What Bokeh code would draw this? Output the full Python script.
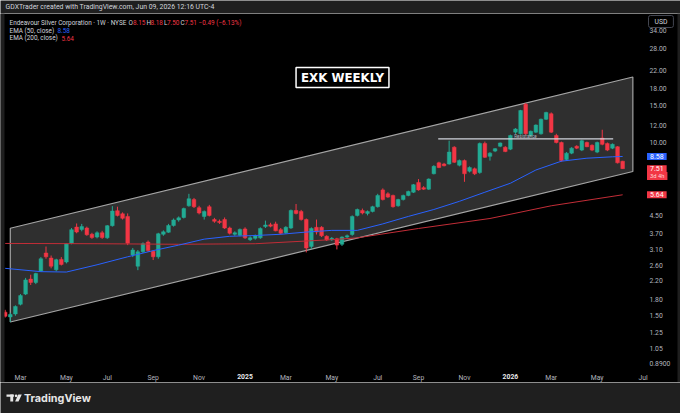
import math
import pandas as pd
from bokeh.plotting import figure
from bokeh.models import Range1d, FixedTicker, Label, ColumnDataSource, DatetimeAxis
from bokeh.layouts import column
from bokeh.embed import file_html
from bokeh.resources import INLINE
from bokeh.core.properties import value

# ---------------- data ----------------
first_week = "2024-02-12"   # weekly bars, Monday dates

opens = [1.56, 1.48, 1.53, 1.70, 1.90, 2.24, 2.16, 2.45, 2.98, 2.82,
         2.48, 2.78, 2.70, 3.32, 3.96, 3.86, 3.92, 3.66, 3.55, 3.72,
         3.52, 4.02, 4.74, 4.58, 4.45, 2.92, 2.58, 3.02, 3.36, 3.04,
         2.86, 3.66, 3.74, 4.03, 4.28, 4.40, 5.00, 5.35, 4.90, 4.45,
         4.95, 4.30, 4.22, 4.30, 3.92, 3.66, 3.62, 3.88, 3.45, 3.50,
         3.52, 3.98, 4.06, 4.10, 3.85, 3.72, 3.92, 4.75, 4.70, 4.30,
         3.20, 3.95, 3.95, 3.58, 3.45, 3.48, 3.28, 3.55, 3.65, 4.50,
         4.75, 4.60, 4.70, 4.95, 5.95, 5.70, 5.60, 5.00, 5.35, 5.60,
         5.80, 6.45, 6.10, 6.00, 7.10, 8.00, 7.90, 7.90, 9.50, 7.80,
         8.20, 7.30, 7.50, 7.20, 9.90, 8.60, 9.10, 9.60, 9.50, 9.30,
         11.2, 11.0, 15.2, 10.8, 11.2, 11.0, 12.9, 13.7, 10.8, 10.0,
         8.30, 8.90, 9.60, 9.20, 10.0, 9.70, 9.00, 10.5, 9.90, 9.40,
         9.55, 8.15]
highs = [1.60, 1.55, 1.68, 1.90, 2.27, 2.35, 2.40, 2.85, 3.20, 2.90,
         2.80, 2.85, 3.32, 3.92, 4.12, 4.10, 3.98, 3.72, 3.78, 3.80,
         4.05, 4.98, 4.95, 4.65, 4.60, 3.15, 3.08, 3.35, 3.42, 3.08,
         3.72, 3.82, 4.10, 4.35, 4.45, 4.90, 5.70, 5.45, 5.00, 4.75,
         5.05, 4.38, 4.30, 4.40, 3.98, 3.78, 3.90, 3.95, 3.58, 3.65,
         3.95, 4.25, 4.15, 4.20, 3.92, 4.00, 4.80, 5.10, 4.78, 4.35,
         3.95, 4.30, 4.00, 3.62, 3.55, 3.52, 3.58, 3.65, 4.50, 4.85,
         4.85, 4.75, 5.00, 5.70, 6.05, 5.80, 5.65, 5.40, 5.65, 5.90,
         6.35, 6.70, 6.20, 6.75, 7.80, 8.10, 8.00, 10.2, 9.60, 8.30,
         8.30, 7.70, 7.60, 10.0, 10.1, 9.00, 9.40, 10.0, 9.60, 10.9,
         11.7, 14.3, 15.4, 11.4, 12.2, 13.0, 14.0, 13.9, 11.0, 10.1,
         9.00, 9.50, 9.70, 10.3, 10.1, 9.80, 10.1, 11.5, 10.0, 9.90,
         9.60, 8.18]
lows = [1.47, 1.40, 1.50, 1.68, 1.88, 2.10, 2.12, 2.42, 2.80, 2.52,
        2.44, 2.60, 2.66, 3.28, 3.70, 3.78, 3.60, 3.48, 3.50, 3.48,
        3.48, 3.98, 4.45, 4.30, 3.25, 2.85, 2.47, 2.98, 3.02, 2.76,
        2.80, 3.60, 3.72, 3.98, 4.20, 4.35, 4.95, 4.88, 4.55, 4.30,
        4.45, 4.15, 4.10, 3.88, 3.65, 3.60, 3.58, 3.48, 3.40, 3.45,
        3.48, 3.92, 3.95, 3.78, 3.65, 3.68, 3.88, 4.55, 4.25, 3.00,
        3.12, 3.65, 3.55, 3.40, 3.40, 3.10, 3.22, 3.50, 3.60, 4.45,
        4.55, 4.50, 4.65, 4.90, 5.30, 5.45, 4.90, 4.95, 5.30, 5.55,
        5.75, 5.90, 5.95, 5.95, 7.05, 7.55, 7.70, 7.85, 8.00, 7.70,
        6.50, 7.20, 7.00, 7.10, 8.45, 8.20, 9.00, 9.50, 9.00, 9.20,
        11.0, 10.9, 10.9, 10.6, 11.1, 10.9, 12.8, 11.1, 9.90, 8.10,
        8.20, 8.80, 9.30, 9.10, 9.50, 9.10, 8.90, 9.70, 9.10, 9.30,
        7.95, 7.50]
closes = [1.49, 1.52, 1.66, 1.87, 2.22, 2.16, 2.38, 2.80, 2.86, 2.58,
          2.77, 2.63, 3.30, 3.85, 3.75, 3.98, 3.64, 3.53, 3.72, 3.53,
          4.02, 4.72, 4.50, 4.36, 3.32, 3.08, 3.02, 3.30, 3.06, 2.86,
          3.68, 3.76, 4.03, 4.28, 4.38, 4.85, 5.40, 4.95, 4.62, 4.70,
          4.50, 4.22, 4.16, 3.92, 3.70, 3.72, 3.86, 3.52, 3.52, 3.60,
          3.90, 4.05, 4.00, 3.80, 3.70, 3.95, 4.75, 4.60, 4.30, 3.15,
          3.90, 3.75, 3.60, 3.44, 3.50, 3.25, 3.55, 3.60, 4.45, 4.80,
          4.62, 4.70, 4.95, 5.60, 5.35, 5.50, 4.95, 5.35, 5.60, 5.85,
          6.30, 5.95, 6.00, 6.70, 7.70, 7.60, 7.75, 9.00, 8.05, 8.20,
          7.10, 7.60, 7.10, 9.90, 8.50, 8.90, 9.35, 9.95, 9.05, 10.8,
          11.6, 14.2, 11.0, 11.3, 12.1, 12.9, 13.9, 11.2, 10.0, 8.20,
          8.90, 9.40, 9.40, 10.2, 9.55, 9.20, 10.0, 9.80, 9.20, 9.80,
          8.00, 7.51]

ema50_dates = ["2024-02-12", "2024-04-01", "2024-05-06", "2024-06-17", "2024-07-29",
               "2024-09-02", "2024-10-07", "2024-11-11", "2024-12-16", "2025-01-20",
               "2025-02-24", "2025-03-31", "2025-05-05", "2025-06-09", "2025-07-14",
               "2025-08-18", "2025-09-22", "2025-10-27", "2025-12-01", "2026-01-05",
               "2026-02-09", "2026-03-16", "2026-04-20", "2026-05-25", "2026-06-08"]
ema50_vals = [2.52, 2.43, 2.42, 2.62, 2.86, 3.06, 3.25, 3.47, 3.58, 3.61,
              3.66, 3.75, 3.82, 3.82, 4.10, 4.45, 4.80, 5.25, 5.80, 6.40,
              7.40, 8.15, 8.42, 8.55, 8.58]

ema200_dates = ["2024-02-12", "2024-06-17", "2024-10-07", "2025-01-20", "2025-05-05",
                "2025-06-09", "2025-09-01", "2025-12-08", "2026-03-02", "2026-06-08"]
ema200_vals = [3.31, 3.30, 3.28, 3.30, 3.45, 3.52, 3.90, 4.35, 5.00, 5.64]

channel_dates = ["2024-02-19", "2024-02-19", "2026-06-22", "2026-06-22"]
channel_prices = [1.40, 3.91, 20.5, 7.28]

resistance_dates = ["2025-09-28", "2026-05-26"]
resistance_level = 10.41

price_ticks = [0.89, 1.05, 1.25, 1.5, 1.8, 2.2, 2.6, 3.1, 3.7, 4.5,
               10, 12, 15, 18, 22, 28, 34]
price_tick_labels = ["0.8900", "1.05", "1.25", "1.50", "1.80", "2.20", "2.60", "3.10",
                     "3.70", "4.50", "10.00", "12.00", "15.00", "18.00", "22.00",
                     "28.00", "34.00"]
month_tick_dates = ["2024-03-04", "2024-05-06", "2024-07-01", "2024-09-02", "2024-11-04",
                    "2025-03-03", "2025-05-05", "2025-07-07", "2025-09-01",
                    "2025-11-03", "2026-03-02", "2026-05-04", "2026-07-06"]
month_tick_labels = ["Mar", "May", "Jul", "Sep", "Nov", "Mar", "May", "Jul",
                     "Sep", "Nov", "Mar", "May", "Jul"]
year_tick_dates = ["2025-01-06", "2026-01-05"]
year_tick_labels = ["2025", "2026"]

last_close = "7.51"
last_countdown = "3d 4h"
ema50_last = "8.58"
ema200_last = "5.64"

header_text = "GDXTrader created with TradingView.com, Jun 09, 2026 12:16 UTC-4"

# ---------------- helpers (layout only) ----------------
DAY = 86400000.0


def ms(d):
    return pd.Timestamp(d).value / 1e6


T_MAR = ms("2024-03-04")


def rx(xr):  # reference-pixel x -> time (annotation placement)
    return T_MAR + (xr - 20) / 0.729 * DAY


def ry(yr):  # reference-pixel y -> price (annotation placement)
    return 10 * math.exp((142 - yr) / 91.3)


UP = "#22ab94"
DOWN = "#f23645"
BLUE = "#2962ff"
EMA_RED = "#c22d37"
BG = "#000000"
OUTER = "#1f1f1f"
TXT = "#d1d4dc"
AX = "#b2b5be"
FONT = "Roboto"

W = 680

# ---------------- main chart ----------------
dates = pd.date_range(first_week, periods=len(closes), freq="7D")
src = ColumnDataSource(dict(
    date=[ms(d) for d in dates],
    top=[max(o, c) for o, c in zip(opens, closes)],
    bottom=[min(o, c) for o, c in zip(opens, closes)],
    high=highs, low=lows,
    color=[UP if c >= o else DOWN for o, c in zip(opens, closes)],
))

p = figure(width=W, height=369, x_axis_type="datetime", y_axis_type="log",
           y_axis_location="right",
           x_range=Range1d(rx(0), rx(680)), y_range=Range1d(ry(382), ry(13)),
           min_border_left=0, min_border_right=0, min_border_top=0, min_border_bottom=0,
           background_fill_color=BG, border_fill_color=BG, outline_line_color=None,
           toolbar_location=None, output_backend="svg")
p.grid.visible = False

# price scale at the right edge of the plotting area, time scale at its bottom (TradingView style)
p.yaxis.fixed_location = rx(646)
p.yaxis.ticker = FixedTicker(ticks=price_ticks)
p.yaxis.major_label_overrides = dict(zip(price_ticks, price_tick_labels))

p.xaxis.fixed_location = ry(370)
p.xaxis.ticker = FixedTicker(ticks=[ms(d) for d in month_tick_dates])
p.xaxis.major_label_overrides = dict(zip([ms(d) for d in month_tick_dates], month_tick_labels))

year_axis = DatetimeAxis(fixed_location=ry(370),
                         ticker=FixedTicker(ticks=[ms(d) for d in year_tick_dates]))
year_axis.major_label_overrides = dict(zip([ms(d) for d in year_tick_dates], year_tick_labels))
p.add_layout(year_axis, "below")

for ax in (p.xaxis[0], year_axis, p.yaxis[0]):
    ax.axis_line_color = None
    ax.major_tick_line_color = None
    ax.minor_tick_line_color = None
    ax.major_tick_out = 0
    ax.major_tick_in = 0
    ax.minor_tick_out = 0
    ax.minor_tick_in = 0
    ax.major_label_text_color = AX
    ax.major_label_text_font = FONT
    ax.major_label_text_font_size = "6.8px"
    ax.major_label_standoff = 3
year_axis.major_label_text_color = "#e8e8ec"
year_axis.major_label_text_font_style = "bold"

# channel
p.patch(x=[ms(d) for d in channel_dates], y=channel_prices,
        fill_color="#2f2f2f", line_color="#a4a4a4", line_width=1.2)

# candles
p.segment(x0="date", y0="low", x1="date", y1="high", line_color="color",
          line_width=1, source=src)
p.vbar(x="date", width=5 * DAY, top="top", bottom="bottom", fill_color="color",
       line_color="color", line_width=0.5, source=src)

# EMAs
p.line(x=[ms(d) for d in ema200_dates], y=ema200_vals, line_color=EMA_RED, line_width=1)
p.line(x=[ms(d) for d in ema50_dates], y=ema50_vals, line_color=BLUE, line_width=1)

# resistance
res_x = [ms(d) for d in resistance_dates]
p.line(x=res_x, y=[resistance_level, resistance_level], line_color=TXT, line_width=1.4)
p.add_layout(Label(x=rx(525), y=resistance_level * 1.03, text="Resistance",
                   text_font=FONT, text_font_size="4.6px", text_color=AX,
                   text_align="center", text_baseline="middle"))

# pane edges (outer frame strips of the snapshot)
p.quad(left=[rx(0), rx(677)], right=[rx(4), rx(680)], top=[ry(13)] * 2,
       bottom=[ry(382)] * 2, fill_color=OUTER, line_color=None)

# title box
p.add_layout(Label(x=rx(342), y=ry(77), text="EXK WEEKLY", text_align="center",
                   text_baseline="middle", text_font="DejaVu Sans", text_font_style="bold",
                   text_font_size="11.8px", text_color="#ffffff",
                   border_line_color="#ffffff", border_line_width=1.5,
                   background_fill_color="#000000",
                   padding=dict(left=5, right=5, top=3, bottom=3)))


# legend (top-left)
def lab(xr, yr, text, color=TXT, size="6.4px"):
    p.add_layout(Label(x=rx(xr), y=ry(yr), text=text, text_font=FONT,
                       text_font_size=size, text_color=color, text_baseline="middle"))


lab(9, 22, "Endeavour Silver Corporation · 1W · NYSE")
lab(128, 22, "O"); lab(132.5, 22, "8.15", DOWN)
lab(146, 22, "H"); lab(150, 22, "8.18", DOWN)
lab(163.5, 22, "L"); lab(166.5, 22, "7.50", DOWN)
lab(180, 22, "C"); lab(184, 22, "7.51", DOWN)
lab(198, 22, "−0.49 (−6.13%)", DOWN)
lab(9, 30, "EMA (50, close)"); lab(57, 30, ema50_last, BLUE)
lab(9, 37.5, "EMA (200, close)"); lab(61, 37.5, ema200_last, DOWN)

# price scale labels (boxes on the price axis)
p.add_layout(Label(x=rx(648), y=ry(21), text="USD", text_font=FONT, text_font_size="6.8px",
                   text_color=TXT, text_baseline="middle", background_fill_color="#000000",
                   border_line_color="#434651", border_line_width=1, border_radius=2,
                   padding=dict(left=6, right=6, top=2, bottom=2)))
box_pad = dict(left=3, right=3, top=1, bottom=1)
p.add_layout(Label(x=rx(646.5), y=float(ema50_last), text=ema50_last, text_font=FONT,
                   text_font_size="7px", text_color="#ffffff", text_baseline="middle",
                   background_fill_color=BLUE, padding=box_pad))
p.add_layout(Label(x=rx(646.5), y=ry(175.5), text=last_countdown, text_font=FONT,
                   text_font_size="5.8px", text_color="#ffd6d9", text_baseline="middle",
                   background_fill_color=DOWN, padding=box_pad))
p.add_layout(Label(x=rx(646.5), y=float(last_close), text=last_close, text_font=FONT,
                   text_font_size="7px", text_color="#ffffff", text_baseline="middle",
                   background_fill_color=DOWN, padding=box_pad))
p.add_layout(Label(x=rx(646.5), y=float(ema200_last), text=ema200_last, text_font=FONT,
                   text_font_size="7px", text_color="#ffffff", text_baseline="middle",
                   background_fill_color=DOWN, padding=box_pad))

# ---------------- header & footer bands ----------------
hf = figure(width=W, height=13, x_range=Range1d(0, W), y_range=Range1d(0, 13),
            x_axis_location=None, y_axis_location=None, min_border=0,
            background_fill_color=OUTER, border_fill_color=OUTER, outline_line_color=None,
            toolbar_location=None, output_backend="svg")
hf.grid.visible = False
hf.text(x=[5], y=[6.5], text=[header_text], text_font=value(FONT),
        text_font_size=value("6.9px"), text_color=TXT, text_baseline="middle")

ff = figure(width=W, height=31, x_range=Range1d(0, W), y_range=Range1d(0, 31),
            x_axis_location=None, y_axis_location=None, min_border=0,
            background_fill_color=OUTER, border_fill_color=OUTER, outline_line_color=None,
            toolbar_location=None, output_backend="svg")
ff.grid.visible = False
LOGO = "#e6e6e6"
ff.quad(left=[6], right=[13.4], top=[19], bottom=[16.7], fill_color=LOGO, line_color=None)
ff.quad(left=[9.8], right=[12.7], top=[19], bottom=[12], fill_color=LOGO, line_color=None)
ff.scatter(x=[15.6], y=[17.7], size=2.7, fill_color=LOGO, line_color=None)
ff.patch(x=[17.8, 21.3, 18.0, 14.6], y=[19, 19, 12, 12], fill_color=LOGO, line_color=None)
ff.text(x=[23.5], y=[15.5], text=["TradingView"], text_font=value("Inter"),
        text_font_style="bold", text_font_size=value("10.8px"), text_color=LOGO,
        text_baseline="middle")

layout = column(hf, p, ff, spacing=0)

open("out.html", "w").write(file_html(layout, INLINE))
